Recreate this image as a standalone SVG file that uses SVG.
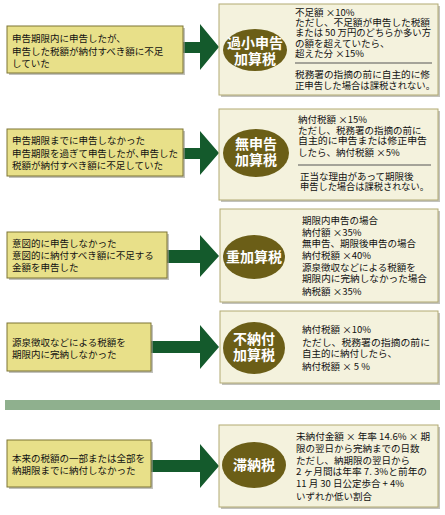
<svg xmlns="http://www.w3.org/2000/svg" width="445" height="515" viewBox="0 0 445 515">
<defs>
<style>
.cause{fill:#e8e089;stroke:#7d7434;stroke-width:1}
.res{fill:#f4f2dd;stroke:#b2aa72;stroke-width:1}
.shadow{fill:#9a9a90;opacity:0.6}
.oval{fill:#6b5e17}
.arrow{fill:#145a2c}
.t{font-family:"Noto Sans CJK JP","Noto Sans",sans-serif;font-size:9.5px;fill:#111}
.ot{font-family:"Noto Sans CJK JP","Noto Sans",sans-serif;font-size:14px;font-weight:bold;fill:#fff;text-anchor:middle}
.sep{stroke:#555;stroke-width:1}
</style>
</defs>
<rect width="445" height="515" fill="#fff"/>

<g id="connectors">
<polygon class="arrow" points="183,42 200,42 200,24 219,47 200,70 200,53 183,53"/>
<polygon class="arrow" points="183,148 200,148 200,131 219,153 200,175 200,159 183,159"/>
<polygon class="arrow" points="167,250 200,250 200,235 219,256 200,277 200,263 167,263"/>
<polygon class="arrow" points="151,341 200,341 200,325 219,347 200,369 200,353 151,353"/>
<polygon class="arrow" points="151,460 200,460 200,444 219,466 200,488 200,472 151,472"/>
</g>

<g id="cause1">
<rect class="shadow" x="9" y="28" width="176" height="47"/>
<rect class="cause" x="7" y="26" width="176" height="47"/>
<text class="t" x="12" y="41.5">申告期限内に申告したが、</text>
<text class="t" x="12" y="55">申告した税額が納付すべき額に不足</text>
<text class="t" x="12" y="67">していた</text>
</g>
<g id="result1">
<rect class="shadow" x="221" y="6" width="219" height="91"/>
<rect class="res" x="219" y="4" width="219" height="91"/>
<ellipse class="oval" cx="255" cy="50" rx="32" ry="21"/>
<text class="ot" x="255" y="48">過小申告</text>
<text class="ot" x="255" y="64">加算税</text>
<text class="t" x="295" y="15.5">不足額 ×10%</text>
<text class="t" x="295" y="26" textLength="135" lengthAdjust="spacingAndGlyphs">ただし、不足額が申告した税額</text>
<text class="t" x="295" y="36" textLength="136" lengthAdjust="spacingAndGlyphs">または 50 万円のどちらか多い方</text>
<text class="t" x="295" y="46.5">の額を超えていたら、</text>
<text class="t" x="295" y="57">超えた分 ×15%</text>
<line class="sep" x1="295" y1="63" x2="432" y2="63"/>
<text class="t" x="295" y="78" textLength="135" lengthAdjust="spacingAndGlyphs">税務署の指摘の前に自主的に修</text>
<text class="t" x="295" y="88.5" textLength="140" lengthAdjust="spacingAndGlyphs">正申告した場合は課税されない。</text>
</g>

<g id="cause2">
<rect class="shadow" x="9" y="131" width="176" height="47"/>
<rect class="cause" x="7" y="129" width="176" height="47"/>
<text class="t" x="12" y="144">申告期限までに申告しなかった</text>
<text class="t" x="12" y="156.5" textLength="166" lengthAdjust="spacingAndGlyphs">申告期限を過ぎて申告したが､申告した</text>
<text class="t" x="12" y="169">税額が納付すべき額に不足していた</text>
</g>
<g id="result2">
<rect class="shadow" x="221" y="111" width="219" height="91"/>
<rect class="res" x="219" y="109" width="219" height="91"/>
<ellipse class="oval" cx="256" cy="153" rx="33" ry="24"/>
<text class="ot" x="256" y="149">無申告</text>
<text class="ot" x="256" y="165">加算税</text>
<text class="t" x="298" y="123">納付税額 ×15%</text>
<text class="t" x="298" y="133.5">ただし、税務署の指摘の前に</text>
<text class="t" x="298" y="144" textLength="129" lengthAdjust="spacingAndGlyphs">自主的に申告または修正申告</text>
<text class="t" x="298" y="156">したら、納付税額 ×5%</text>
<line class="sep" x1="298" y1="165" x2="431" y2="165"/>
<text class="t" x="300" y="180">正当な理由があって期限後</text>
<text class="t" x="300" y="190" textLength="129" lengthAdjust="spacingAndGlyphs">申告した場合は課税されない。</text>
</g>

<g id="cause3">
<rect class="shadow" x="9" y="234" width="160" height="46"/>
<rect class="cause" x="7" y="232" width="160" height="46"/>
<text class="t" x="12" y="247">意図的に申告しなかった</text>
<text class="t" x="12" y="259">意図的に納付すべき額に不足する</text>
<text class="t" x="12" y="271">金額を申告した</text>
</g>
<g id="result3">
<rect class="shadow" x="222" y="211" width="218" height="93"/>
<rect class="res" x="220" y="209" width="218" height="93"/>
<ellipse class="oval" cx="254" cy="257" rx="31" ry="22"/>
<text class="ot" x="254" y="262">重加算税</text>
<text class="t" x="302" y="224">期限内申告の場合</text>
<text class="t" x="302" y="235.5">納付額 ×35%</text>
<text class="t" x="302" y="247">無申告、期限後申告の場合</text>
<text class="t" x="302" y="259">納付税額 ×40%</text>
<text class="t" x="302" y="270.5">源泉徴収などによる税額を</text>
<text class="t" x="302" y="282" textLength="125" lengthAdjust="spacingAndGlyphs">期限内に完納しなかった場合</text>
<text class="t" x="302" y="294.5">納税額 ×35%</text>
</g>

<g id="cause4">
<rect class="shadow" x="9" y="325" width="144" height="48"/>
<rect class="cause" x="7" y="323" width="144" height="48"/>
<text class="t" x="12" y="346">源泉徴収などによる税額を</text>
<text class="t" x="12" y="357.5">期限内に完納しなかった</text>
</g>
<g id="result4">
<rect class="shadow" x="222" y="313" width="218" height="72"/>
<rect class="res" x="220" y="311" width="218" height="72"/>
<ellipse class="oval" cx="254" cy="348" rx="31" ry="26"/>
<text class="ot" x="254" y="344">不納付</text>
<text class="ot" x="254" y="360">加算税</text>
<text class="t" x="302" y="333">納付税額 ×10%</text>
<text class="t" x="302" y="345.5" textLength="128" lengthAdjust="spacingAndGlyphs">ただし、税務署の指摘の前に</text>
<text class="t" x="302" y="357">自主的に納付したら、</text>
<text class="t" x="302" y="369.5">納付税額 × 5 %</text>
</g>

<rect x="5" y="400" width="435" height="10" fill="#8fb08e"/>

<g id="cause5">
<rect class="shadow" x="9" y="442" width="144" height="47"/>
<rect class="cause" x="7" y="440" width="144" height="47"/>
<text class="t" x="12" y="462">本来の税額の一部または全部を</text>
<text class="t" x="12" y="474">納期限までに納付しなかった</text>
</g>
<g id="result5">
<rect class="shadow" x="221" y="427" width="219" height="82"/>
<rect class="res" x="219" y="425" width="219" height="82"/>
<ellipse class="oval" cx="254" cy="465" rx="32" ry="23"/>
<text class="ot" x="254" y="470">滞納税</text>
<text class="t" x="296" y="440" textLength="134" lengthAdjust="spacingAndGlyphs">未納付金額 × 年率 14.6% × 期</text>
<text class="t" x="296" y="452">限の翌日から完納までの日数</text>
<text class="t" x="296" y="463.5">ただし、納期限の翌日から</text>
<text class="t" x="296" y="475" textLength="131" lengthAdjust="spacingAndGlyphs">2 ヶ月間は年率 7. 3%と前年の</text>
<text class="t" x="296" y="487">11 月 30 日公定歩合 + 4%</text>
<text class="t" x="296" y="499.5">いずれか低い割合</text>
</g>
</svg>
